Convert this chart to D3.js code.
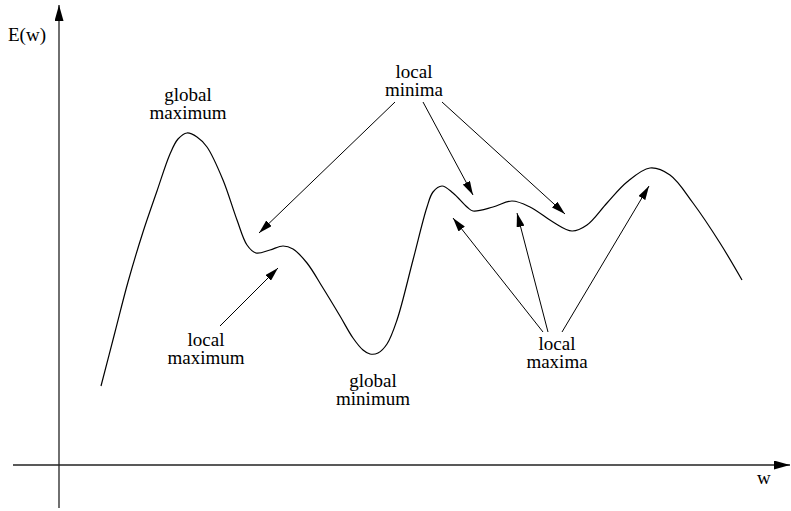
<!DOCTYPE html>
<html>
<head>
<meta charset="utf-8">
<script src="https://cdn.jsdelivr.net/npm/d3@7"></script>
<style>
  html, body { margin: 0; padding: 0; background: #fff; }
  svg { display: block; }
  text { font-family: "Liberation Serif", "Times New Roman", serif; font-size: 19px; fill: #000; }
</style>
</head>
<body>
<svg id="chart" width="791" height="511"></svg>
<script>
// ---- data (w, E(w)) ----
const wValues = [41, 55, 68, 83, 97, 110, 118, 127, 137, 147, 163, 177, 187, 196, 210, 223, 233, 247, 263, 280, 293, 303,
                 310, 318, 327, 337, 353, 367, 373, 382, 393, 407, 413, 433, 452, 470, 493, 512, 527, 547, 567, 590, 610, 633, 660, 682];
const eValues = [80, 134, 184, 234, 275, 312, 327, 333, 329, 319, 286, 246, 221, 213, 216, 220, 217, 203, 178, 150, 128, 116,
                 112, 113, 122, 146, 206, 259, 274, 280, 273, 259, 255, 259, 265, 259, 244, 235, 241, 263, 284, 298, 291, 263, 223, 186];

const axisLabels = { x: "w", y: "E(w)" };

// annotation labels: text lines and anchor (w, E)
const labelText = [["global", "maximum"], ["local", "minima"], ["local", "maximum"], ["global", "minimum"], ["local", "maxima"]];
const labelW = [128, 354, 146, 313, 497];
const labelE = [365, 388, 120, 79, 116];

// arrows: from (w,E) to (w,E)
const arrowFromW = [335, 363, 382, 160, 483, 488, 502];
const arrowFromE = [364, 364, 364, 140, 134, 134, 134];
const arrowToW   = [199, 413, 505, 218, 393, 457, 589];
const arrowToE   = [233, 271, 252, 198, 248, 253, 280];

// ---- drawing ----
const svg = d3.select("#chart");
const x = d3.scaleLinear().domain([0, 730]).range([60, 790]);
const y = d3.scaleLinear().domain([0, 461]).range([466, 5]);

const defs = svg.append("defs");
defs.append("marker")
  .attr("id", "head")
  .attr("markerUnits", "userSpaceOnUse")
  .attr("viewBox", "0 0 14 8")
  .attr("refX", 14).attr("refY", 4)
  .attr("markerWidth", 14).attr("markerHeight", 8)
  .attr("orient", "auto")
  .append("path").attr("d", "M0,0 L14,4 L0,8 Z").attr("fill", "#000");
defs.append("marker")
  .attr("id", "axhead")
  .attr("markerUnits", "userSpaceOnUse")
  .attr("viewBox", "0 0 16 9")
  .attr("refX", 16).attr("refY", 4.5)
  .attr("markerWidth", 16).attr("markerHeight", 9)
  .attr("orient", "auto")
  .append("path").attr("d", "M0,0 L16,4.5 L0,9 Z").attr("fill", "#000");

// axes
svg.append("line")
  .attr("x1", x(0) - 1).attr("y1", 508).attr("x2", x(0) - 1).attr("y2", y(461))
  .attr("stroke", "#222").attr("stroke-width", 1.3).attr("marker-end", "url(#axhead)");
svg.append("line")
  .attr("x1", 13).attr("y1", y(0) - 1).attr("x2", x(730)).attr("y2", y(0) - 1)
  .attr("stroke", "#222").attr("stroke-width", 1.3).attr("marker-end", "url(#axhead)");

svg.append("text").attr("x", 8).attr("y", 41).text(axisLabels.y);
svg.append("text").attr("x", 757).attr("y", 484).text(axisLabels.x);

// curve
const pts = wValues.map((w, i) => [w, eValues[i]]);
const line = d3.line().x(d => x(d[0])).y(d => y(d[1])).curve(d3.curveCatmullRom.alpha(0.5));
svg.append("path").datum(pts)
  .attr("d", line)
  .attr("fill", "none").attr("stroke", "#000").attr("stroke-width", 1.2);

// arrows
arrowFromW.forEach((fw, i) => {
  svg.append("line")
    .attr("x1", x(fw)).attr("y1", y(arrowFromE[i]))
    .attr("x2", x(arrowToW[i])).attr("y2", y(arrowToE[i]))
    .attr("stroke", "#000").attr("stroke-width", 1)
    .attr("marker-end", "url(#head)");
});

// labels
labelText.forEach((lines, i) => {
  const t = svg.append("text").attr("text-anchor", "middle");
  lines.forEach((s, j) => {
    t.append("tspan").attr("x", x(labelW[i])).attr("y", y(labelE[i]) + j * 17.5).text(s);
  });
});
</script>
</body>
</html>
